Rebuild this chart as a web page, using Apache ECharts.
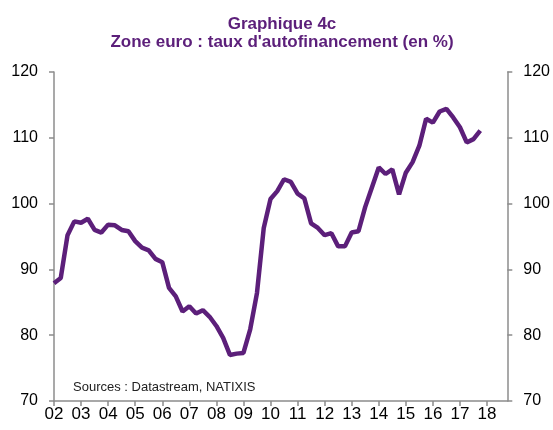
<!DOCTYPE html>
<html>
<head>
<meta charset="utf-8">
<script src="https://cdn.jsdelivr.net/npm/echarts@6/dist/echarts.min.js"></script>
<style>
  html, body { margin: 0; padding: 0; background: #fff; }
  #main { width: 553px; height: 430px; }
</style>
</head>
<body>
<div id="main"></div>
<script>
// axis runs over quarters 2002Q1 .. 2018Q4, data stops at 2017Q4
const quarters = [];
for (let y = 2; y <= 18; y++) {
  for (let q = 1; q <= 4; q++) quarters.push(String(y).padStart(2, '0') + 'Q' + q);
}
const yearLabels = ['02', '03', '04', '05', '06', '07', '08', '09', '10', '11', '12', '13', '14', '15', '16', '17', '18'];

const autofinancement = [
  87.9, 88.7, 95.2, 97.3, 97.1, 97.7, 96.0, 95.6,
  96.8, 96.7, 96.0, 95.8, 94.3, 93.3, 92.9, 91.6,
  91.1, 87.2, 85.9, 83.6, 84.4, 83.3, 83.8, 82.8,
  81.4, 79.6, 77.0, 77.2, 77.3, 80.9, 86.4, 96.3,
  100.7, 101.9, 103.7, 103.3, 101.5, 100.8, 97.0, 96.3,
  95.2, 95.5, 93.5, 93.5, 95.6, 95.8, 99.5, 102.5,
  105.5, 104.5, 105.2, 101.4, 104.7, 106.3, 108.8, 112.9,
  112.3, 114.0, 114.4, 113.1, 111.6, 109.3, 109.8, 111.1
];

const purple = '#5c1f7a';
const axisGrey = '#8c8c8c';

const chart = echarts.init(document.getElementById('main'));
const yAxisBase = {
  type: 'value',
  min: 70,
  max: 120,
  interval: 10,
  splitLine: {show: false},
  axisLine: {show: true, lineStyle: {color: axisGrey, width: 1.5}},
  axisTick: {show: true, length: 5, lineStyle: {color: axisGrey, width: 1.5}},
  axisLabel: {color: '#000', fontSize: 16, fontFamily: 'Liberation Sans, Arial', margin: 16}
};

chart.setOption({
  animation: false,
  title: {
    text: 'Graphique 4c\nZone euro : taux d\'autofinancement (en %)',
    left: 277,
    top: 10,
    textAlign: 'center',
    textStyle: {
      color: purple,
      fontSize: 17,
      fontWeight: 'bold',
      fontFamily: 'Liberation Sans, Arial',
      lineHeight: 18,
      align: 'center'
    }
  },
  grid: {left: 54, right: 44, top: 72, bottom: 29},
  graphic: [{
    type: 'text',
    left: 73,
    top: 381,
    style: {
      text: 'Sources : Datastream, NATIXIS',
      fill: '#222',
      fontSize: 13,
      fontFamily: 'Liberation Sans, Arial'
    }
  }],
  xAxis: {
    type: 'category',
    data: quarters,
    boundaryGap: false,
    axisLine: {lineStyle: {color: axisGrey, width: 1.5}},
    axisTick: {
      show: true,
      length: 5,
      interval: i => i % 4 === 0,
      lineStyle: {color: axisGrey, width: 1.5}
    },
    axisLabel: {
      interval: i => i % 4 === 0,
      formatter: (v, i) => yearLabels[i / 4],
      color: '#000',
      fontSize: 17,
      fontFamily: 'Liberation Sans, Arial',
      margin: 5
    }
  },
  yAxis: [
    Object.assign({}, yAxisBase, {position: 'left'}),
    Object.assign({}, yAxisBase, {position: 'right'})
  ],
  series: [{
    type: 'line',
    data: autofinancement,
    showSymbol: false,
    lineStyle: {color: purple, width: 4.5},
    itemStyle: {color: purple}
  }]
});
</script>
</body>
</html>
